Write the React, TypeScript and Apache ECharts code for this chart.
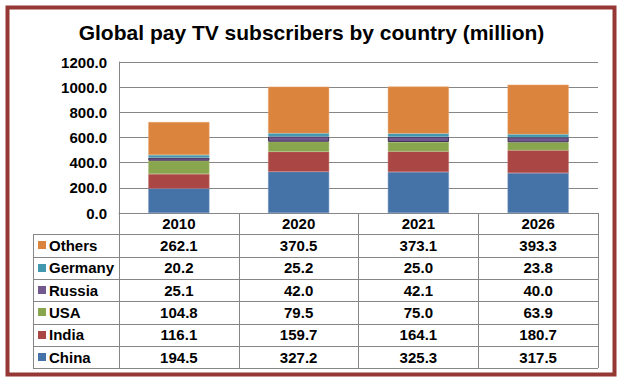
import React, { useEffect, useRef } from "react";
import * as echarts from "echarts";

const years = ["2010", "2020", "2021", "2026"];
const seriesNames = ["China", "India", "USA", "Russia", "Germany", "Others"];
const china = [194.5, 327.2, 325.3, 317.5];
const india = [116.1, 159.7, 164.1, 180.7];
const usa = [104.8, 79.5, 75.0, 63.9];
const russia = [25.1, 42.0, 42.1, 40.0];
const germany = [20.2, 25.2, 25.0, 23.8];
const others = [262.1, 370.5, 373.1, 393.3];
const yTicks = [0, 200, 400, 600, 800, 1000, 1200];

const colors = ["#4572A7", "#AA4643", "#89A54E", "#71588F", "#4198AF", "#DB843D"];
const borderColors = ["#6F93C0", "#C06A67", "#A4BE72", "#3F2F55", "#6BB4C8", "#E8A36A"];

const FONT = "'Liberation Sans', Arial, sans-serif";
const W = 623;
const H = 385;
const GRID_L = 119;
const GRID_R = 598;
const GRID_T = 62;
const GRID_B = 213;
const LEG_L = 33;
const HEADER_B = 234.3;
const ROW_H = 22.33;
const GRAY = "#868686";

export default function App() {
  const ref = useRef<HTMLDivElement>(null);
  useEffect(() => {
    if (!ref.current) return;
    const chart = echarts.init(ref.current, null, { renderer: "svg" });
    const allData = [china, india, usa, russia, germany, others];
    const rowsTopDown = [5, 4, 3, 2, 1, 0];
    const colW = (GRID_R - GRID_L) / years.length;

    const graphics: any[] = [];
    graphics.push({
      type: "rect",
      shape: { x: 7.5, y: 7.5, width: 607, height: 367 },
      style: { fill: "none", stroke: "#953735", lineWidth: 4 },
    });
    for (let i = 0; i <= 6; i++) {
      const y = Math.round(HEADER_B + i * ROW_H) + 0.5;
      graphics.push({
        type: "line",
        shape: { x1: LEG_L, y1: y, x2: GRID_R, y2: y },
        style: { stroke: GRAY, lineWidth: 1 },
      });
    }
    graphics.push({
      type: "line",
      shape: {
        x1: LEG_L + 0.5,
        y1: Math.round(HEADER_B) + 0.5,
        x2: LEG_L + 0.5,
        y2: Math.round(HEADER_B + 6 * ROW_H) + 0.5,
      },
      style: { stroke: GRAY, lineWidth: 1 },
    });
    rowsTopDown.forEach((si, r) => {
      const cy = HEADER_B + r * ROW_H + ROW_H / 2;
      graphics.push({
        type: "rect",
        shape: { x: 38, y: Math.round(cy - 4), width: 8, height: 8 },
        style: { fill: colors[si] },
      });
      graphics.push({
        type: "text",
        x: 49,
        y: cy,
        style: {
          text: seriesNames[si],
          font: `bold 15px ${FONT}`,
          fill: "#000",
          textAlign: "left",
          textVerticalAlign: "middle",
        },
      });
      allData[si].forEach((v, c) => {
        graphics.push({
          type: "text",
          x: GRID_L + colW * (c + 0.5),
          y: cy,
          style: {
            text: v.toFixed(1),
            font: `bold 15px ${FONT}`,
            fill: "#000",
            textAlign: "center",
            textVerticalAlign: "middle",
          },
        });
      });
    });

    chart.setOption({
      animation: false,
      title: {
        text: "Global pay TV subscribers by country (million)",
        left: "center",
        top: 17,
        textStyle: { fontFamily: FONT, fontSize: 21, fontWeight: "bold", color: "#000" },
      },
      grid: { left: GRID_L, right: W - GRID_R, top: GRID_T, bottom: H - GRID_B },
      xAxis: {
        type: "category",
        data: years,
        axisLine: { lineStyle: { color: GRAY, width: 1 } },
        axisTick: {
          show: true,
          inside: false,
          length: 155,
          lineStyle: { color: GRAY, width: 1 },
        },
        axisLabel: {
          margin: 3,
          fontFamily: FONT,
          fontSize: 15,
          fontWeight: "bold",
          color: "#000",
        },
      },
      yAxis: {
        type: "value",
        min: 0,
        max: 1200,
        interval: 200,
        axisLine: { show: true, lineStyle: { color: GRAY, width: 1 } },
        axisTick: { show: false },
        splitLine: { lineStyle: { color: GRAY, width: 1 } },
        axisLabel: {
          margin: 12,
          fontFamily: FONT,
          fontSize: 15,
          fontWeight: "bold",
          color: "#000",
          formatter: (v: number) => (yTicks.includes(v) ? v.toFixed(1) : ""),
        },
      },
      series: seriesNames.map((name, i) => ({
        name,
        type: "bar",
        stack: "total",
        data: allData[i],
        barWidth: "51%",
        itemStyle: {
          color: colors[i],
          borderColor: borderColors[i],
          borderWidth: i === 3 ? 1 : 0.5,
        },
      })),
      graphic: graphics,
    });
    return () => chart.dispose();
  }, []);
  return (
    <div
      ref={ref}
      style={{ position: "fixed", left: 0, top: 0, width: W, height: H, background: "#fff" }}
    />
  );
}
